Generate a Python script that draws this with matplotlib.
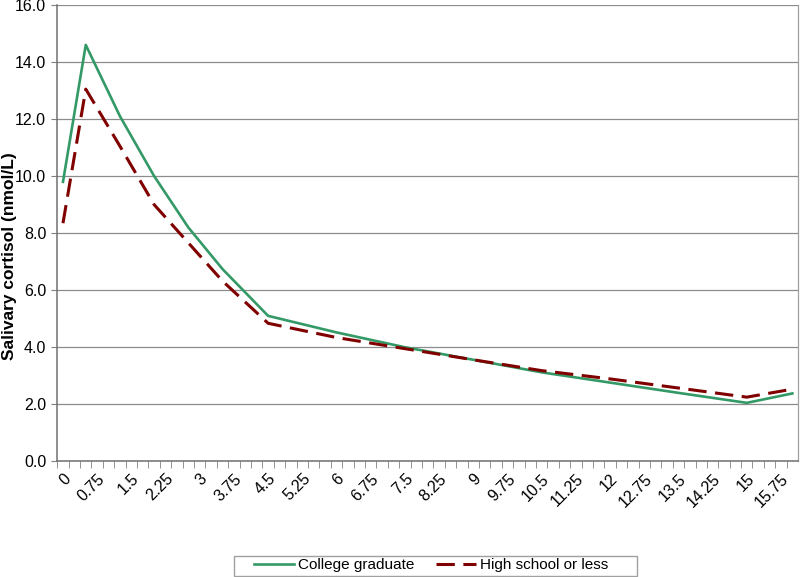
import matplotlib
matplotlib.use("Agg")
import matplotlib.pyplot as plt
from matplotlib.patches import Rectangle
import numpy as np

plt.rcParams['font.family'] = ['Liberation Sans', 'DejaVu Sans']

# hours after waking (category axis in 0.25 h steps, 0 .. 16)
hours = [0, 0.5, 1.25, 2, 2.75, 3.5, 4.5, 6, 7.5, 9, 10.5, 12, 13.5, 15, 16]
college = [9.8, 14.6, 12.1, 10.0, 8.2, 6.74, 5.10, 4.52, 4.0, 3.56, 3.12, 2.76, 2.40, 2.05, 2.38]
highschool = [8.35, 13.05, 11.05, 9.0, 7.66, 6.32, 4.84, 4.34, 3.95, 3.56, 3.18, 2.89, 2.57, 2.25, 2.53]

categories = np.arange(0, 16.01, 0.25)
tick_labels = ['%g' % c for c in categories[::3]]

fig = plt.figure(figsize=(8, 5.77), dpi=100)
ax = fig.add_axes([0.0716, 0.2005, 0.926, 0.7908])

xc = np.array(hours) * 4  # category index
ax.plot(xc, college, color='#339966', lw=1.9, label='College graduate')
ax.plot(xc, highschool, color='#800000', lw=2.2, dashes=(6, 2.8), label='High school or less')

ax.set_xlim(-0.5, len(categories) - 0.5)
ax.set_ylim(0, 16)
ax.set_yticks(np.arange(0, 16.1, 2))
ax.set_yticklabels(['%.1f' % v for v in np.arange(0, 16.1, 2)], fontsize=11.5)
ax.yaxis.grid(True, color='#8c8c8c', lw=0.9)
ax.set_axisbelow(True)

ax.set_xticks(np.arange(len(categories))[::3])
ax.set_xticklabels(tick_labels, rotation=45, ha='right', va='top',
                   rotation_mode='anchor', fontsize=11.5)
ax.set_xticks(np.arange(len(categories)) - 0.5, minor=True)
ax.tick_params(axis='x', which='major', length=0, pad=7)
ax.tick_params(axis='x', which='minor', length=5, color='#808080')
ax.tick_params(axis='y', length=4, color='#808080', pad=4)

ax.spines['right'].set_color('#a0a0a0')
ax.spines['right'].set_linewidth(0.9)
ax.spines['top'].set_visible(False)
for s in ['left', 'bottom']:
    ax.spines[s].set_color('#707070')
    ax.spines[s].set_linewidth(1.1)

ax.set_ylabel('Salivary cortisol (nmol/L)', fontsize=12.5, fontweight='bold')
ax.yaxis.set_label_coords(-0.055, 0.45)

leg = fig.legend(loc='center', bbox_to_anchor=(0.539, 0.0205), ncol=2, fontsize=11,
                 frameon=False, handlelength=2.6, handletextpad=0.3,
                 columnspacing=1.4, borderpad=0.3)
fig.patches.append(Rectangle((234 / 800, 0.0012), 403 / 800, 20 / 577,
                             transform=fig.transFigure, fill=False,
                             edgecolor='#a0a0a0', lw=1.0))

fig.savefig('out.png', dpi=100)
